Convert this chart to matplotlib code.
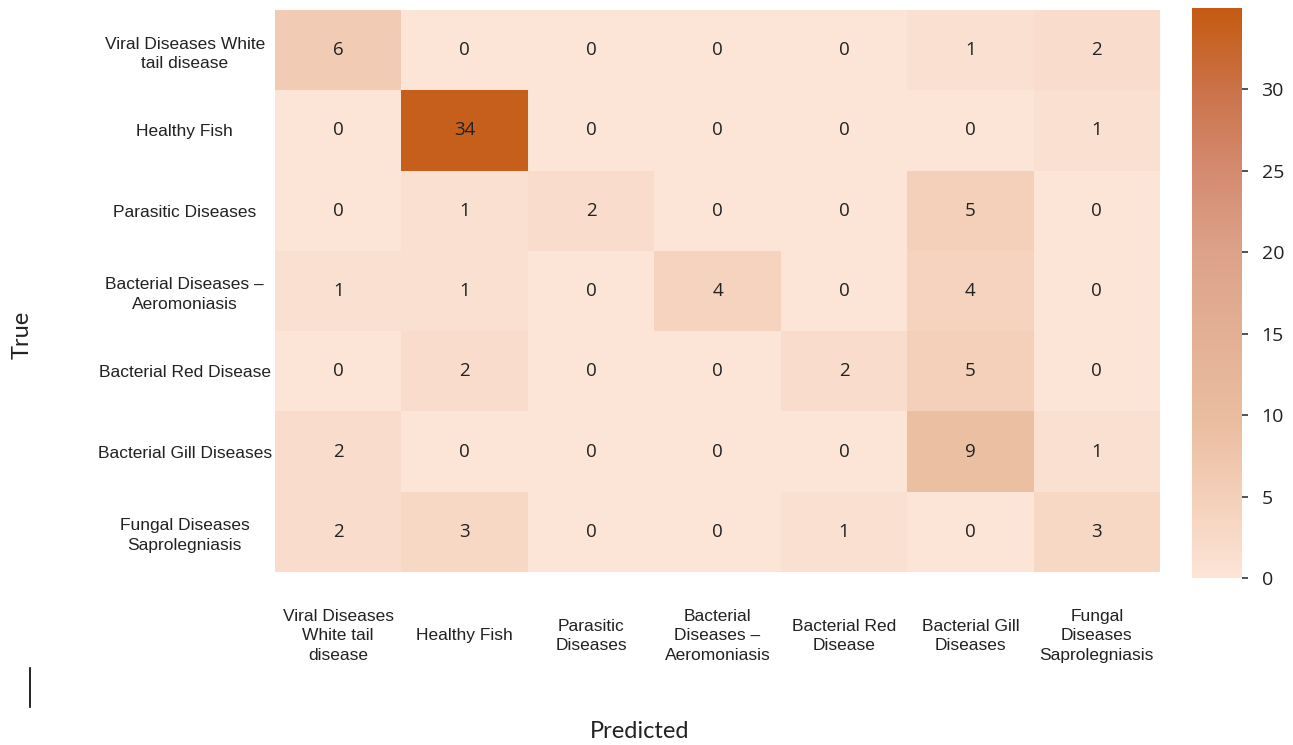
import numpy as np
import matplotlib
matplotlib.use("Agg")
import matplotlib.pyplot as plt
from matplotlib.colors import LinearSegmentedColormap
from matplotlib.lines import Line2D

# class names as they appear on the axes
row_labels = [
    "Viral Diseases White\ntail disease",
    "Healthy Fish",
    "Parasitic Diseases",
    "Bacterial Diseases \u2013\nAeromoniasis",
    "Bacterial Red Disease",
    "Bacterial Gill Diseases",
    "Fungal Diseases\nSaprolegniasis",
]
col_labels = [
    "Viral Diseases\nWhite tail\ndisease",
    "Healthy Fish",
    "Parasitic\nDiseases",
    "Bacterial\nDiseases \u2013\nAeromoniasis",
    "Bacterial Red\nDisease",
    "Bacterial Gill\nDiseases",
    "Fungal\nDiseases\nSaprolegniasis",
]

# confusion matrix (rows = true, cols = predicted)
cm = np.array([
    [6, 0, 0, 0, 0, 1, 2],
    [0, 34, 0, 0, 0, 0, 1],
    [0, 1, 2, 0, 0, 5, 0],
    [1, 1, 0, 4, 0, 4, 0],
    [0, 2, 0, 0, 2, 5, 0],
    [2, 0, 0, 0, 0, 9, 1],
    [2, 3, 0, 0, 1, 0, 3],
])
cbar_ticks = [0, 5, 10, 15, 20, 25, 30]

cmap = LinearSegmentedColormap.from_list("peach", [
    (0.0, "#fce4d6"),
    (0.143, "#f4cfb9"),
    (0.257, "#ebbfa2"),
    (0.571, "#dca28a"),
    (0.714, "#d48b70"),
    (0.857, "#cb7249"),
    (1.0, "#c55a11"),
])

fig = plt.figure(figsize=(12.93, 7.45), dpi=100)
ax = fig.add_axes([0.2127, 0.2322, 0.6845, 0.7544])
cax = fig.add_axes([0.9219, 0.2242, 0.0387, 0.765])

im = ax.pcolormesh(cm, cmap=cmap, vmin=0, vmax=35)
ax.set_xlim(0, 7)
ax.set_ylim(7, 0)
for s in ax.spines.values():
    s.set_visible(False)

num_font = "Open Sans"
for i in range(cm.shape[0]):
    for j in range(cm.shape[1]):
        ax.text(j + 0.5, i + 0.5, str(cm[i, j]), ha="center", va="center",
                fontsize=13.5, color="#222222", family=num_font)

ax.set_xticks(np.arange(7) + 0.5)
ax.set_yticks(np.arange(7) + 0.5)
ax.set_xticklabels(col_labels, family="Liberation Sans", fontsize=12.5,
                   color="#222222", linespacing=1.35, va="center")
ax.set_yticklabels(row_labels, family="Liberation Sans", fontsize=12.5,
                   color="#222222", linespacing=1.35, ha="center")
ax.tick_params(axis="x", length=0, pad=46)
ax.tick_params(axis="y", length=0, pad=65)

cb = fig.colorbar(im, cax=cax, ticks=cbar_ticks)
cb.outline.set_visible(False)
cax.tick_params(length=4, width=1.2, color="#333333", pad=10, labelsize=14)
for t in cax.get_yticklabels():
    t.set_family(num_font)
    t.set_color("#222222")

fig.text(0.495, 0.018, "Predicted", ha="center", va="center",
         fontsize=17, family="Lato", color="#222222")
fig.text(0.017, 0.55, "True", ha="center", va="center", rotation=90,
         fontsize=17, family="Lato", color="#222222")

# stray cursor mark in the original image
fig.add_artist(Line2D([0.0232, 0.0232], [0.051, 0.1034], color="black", lw=1.2))

fig.savefig("out.png", dpi=100)
